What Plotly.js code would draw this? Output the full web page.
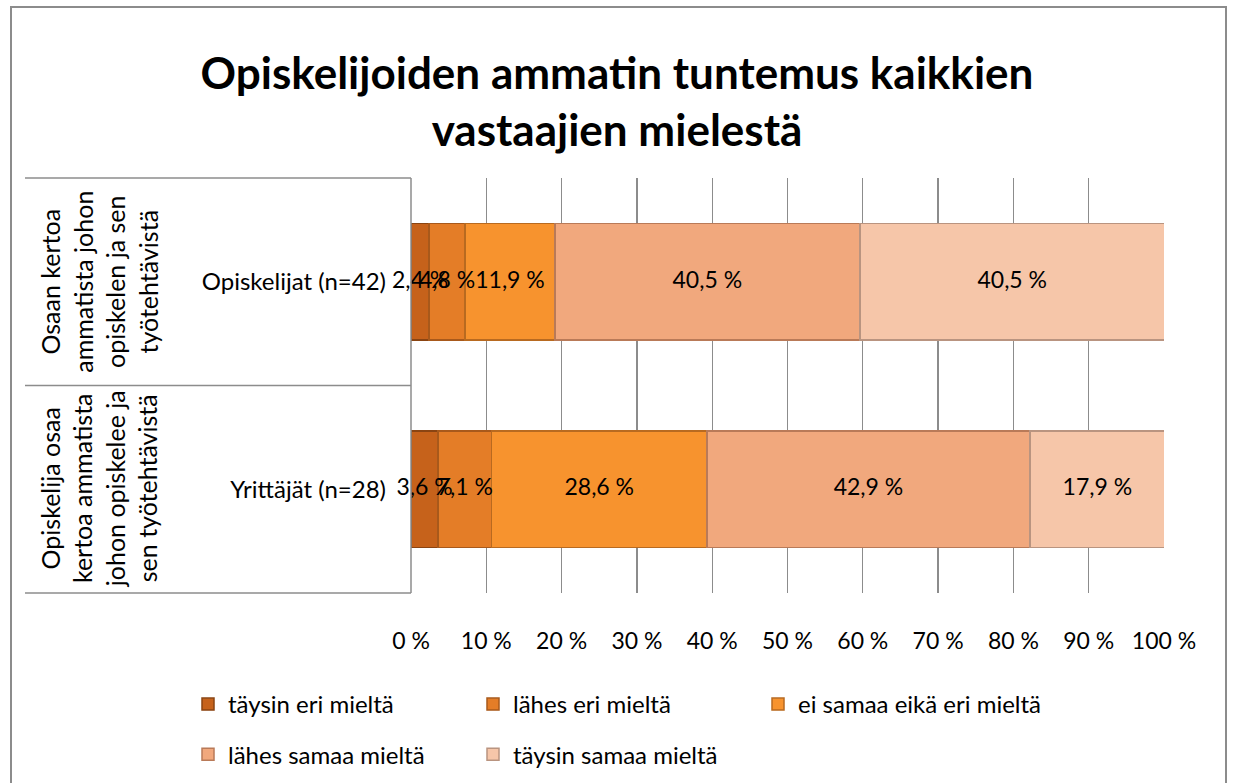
<!DOCTYPE html>
<html><head><meta charset="utf-8">
<script src="https://cdn.plot.ly/plotly-3.0.1.min.js"></script>
<style>html,body{margin:0;padding:0;background:#fff;overflow:hidden}#chart{width:1234px;height:783px}</style>
</head><body><div id="chart"></div>
<script>
const categories = ["Opiskelijat (n=42)", "Yrittäjät (n=28)"];
const groupLabels = ["Osaan kertoa<br>ammatista johon<br>opiskelen ja sen<br>työtehtävistä",
                     "Opiskelija osaa<br>kertoa ammatista<br>johon opiskelee ja<br>sen työtehtävistä"];
const seriesNames = ["täysin eri mieltä", "lähes eri mieltä", "ei samaa eikä eri mieltä", "lähes samaa mieltä", "täysin samaa mieltä"];
const taysinEri = [2.4, 3.6];
const lahesEri = [4.8, 7.1];
const eiSamaaEikaEri = [11.9, 28.6];
const lahesSamaa = [40.5, 42.9];
const taysinSamaa = [40.5, 17.9];
const seriesValues = [taysinEri, lahesEri, eiSamaaEikaEri, lahesSamaa, taysinSamaa];
const colors = ["#c6621b", "#e47d27", "#f7932e", "#f1a87d", "#f6c6a9"];
const lineColors = ["#8a4412", "#a8591b", "#b86a20", "#b97a58", "#b99480"];
const legendIds = ["legend", "legend2", "legend3", "legend", "legend2"];
const font = "Lato, 'Open Sans', sans-serif";
const fmt = v => v.toFixed(1).replace('.', ',') + ' %';

// pixel -> paper helpers (plot area: x 411..1164, y 178..593)
const W = 1234, H = 783;
const L = 411, R = 1164, T = 178, B = 593;
const px = x => (x - L) / (R - L);
const py = y => (B - y) / (B - T);
const cx = x => x / W;
const cy = y => 1 - y / H;

const traces = seriesNames.map((name, i) => ({
  type: 'bar', orientation: 'h', name: name,
  y: categories, x: seriesValues[i],
  marker: {color: colors[i], line: {color: lineColors[i], width: 1.5}},
  width: 0.56, hoverinfo: 'name+x',
  legend: legendIds[i], legendgroup: 'g' + i
}));

// data labels on top of all bars (centred in each stacked segment)
const lblX = [], lblY = [], lblT = [];
categories.forEach((c, j) => {
  let cum = 0;
  seriesValues.forEach(vals => {
    lblX.push(cum + vals[j] / 2); lblY.push(c); lblT.push(fmt(vals[j]));
    cum += vals[j];
  });
});
traces.push({type:'scatter', mode:'text', x:lblX, y:lblY, text:lblT, textposition:'middle center',
  textfont:{family:font, size:23, color:'#000'}, showlegend:false, hoverinfo:'skip', cliponaxis:false});

const lineColor = '#8c8c8c';
const shapes = [
  {type:'rect', xref:'paper', yref:'paper', x0:px(11), x1:px(1226), y0:py(795), y1:py(7), line:{color:lineColor, width:2}, layer:'below'},
  {type:'line', xref:'paper', yref:'paper', x0:px(25), x1:0, y0:1, y1:1, line:{color:lineColor, width:1.5}},
  {type:'line', xref:'paper', yref:'paper', x0:px(25), x1:0, y0:0.5, y1:0.5, line:{color:lineColor, width:1.5}},
  {type:'line', xref:'paper', yref:'paper', x0:px(25), x1:0, y0:0, y1:0, line:{color:lineColor, width:1.5}},
  {type:'line', xref:'paper', yref:'paper', x0:0, x1:0, y0:0, y1:1, line:{color:lineColor, width:1.5}}
];

const annotations = categories.map((c, i) => ({
  xref:'paper', yref:'y', x:px(99), y:c, text: groupLabels[i], textangle:-90,
  showarrow:false, font:{family:font, size:25, color:'#000'}, align:'center',
  xanchor:'center', yanchor:'middle'
}));

const legendBase = {orientation:'v', font:{family:font, size:24, color:'#000'},
  xanchor:'left', yanchor:'top', xref:'container', yref:'container', tracegroupgap:16, bgcolor:'rgba(0,0,0,0)',
  itemwidth:30, traceorder:'grouped'};

const layout = {
  width:W, height:H,
  margin:{l:L, r:W-R, t:T, b:H-B, autoexpand:false},
  paper_bgcolor:'#fff', plot_bgcolor:'#fff',
  barmode:'stack',
  title:{text:'<b>Opiskelijoiden ammatin tuntemus kaikkien<br>vastaajien mielestä</b>',
    font:{family:font, size:44, color:'#000'}, x:0.5, xref:'container', xanchor:'center',
    yref:'container', y:cy(89), yanchor:'middle'},
  xaxis:{range:[0,100], dtick:10, ticksuffix:' %', showgrid:true, gridcolor:'#8c8c8c', gridwidth:1.3,
    zeroline:false, showline:false, ticks:'', ticklabelstandoff:32,
    tickfont:{family:font, size:23, color:'#000'}, fixedrange:true},
  yaxis:{categoryorder:'array', categoryarray:categories, autorange:'reversed',
    showgrid:false, zeroline:false, showline:false, ticks:'', ticklabelstandoff:24,
    tickfont:{family:font, size:24, color:'#000'}},
  shapes: shapes, annotations: annotations,
  legend: Object.assign({}, legendBase, {x:cx(188), y:cy(682)}),
  legend2: Object.assign({}, legendBase, {x:cx(473), y:cy(682)}),
  legend3: Object.assign({}, legendBase, {x:cx(758), y:cy(682)}),
  showlegend:true
};

Plotly.newPlot('chart', traces, layout, {displayModeBar:false, staticPlot:true});
</script></body></html>
